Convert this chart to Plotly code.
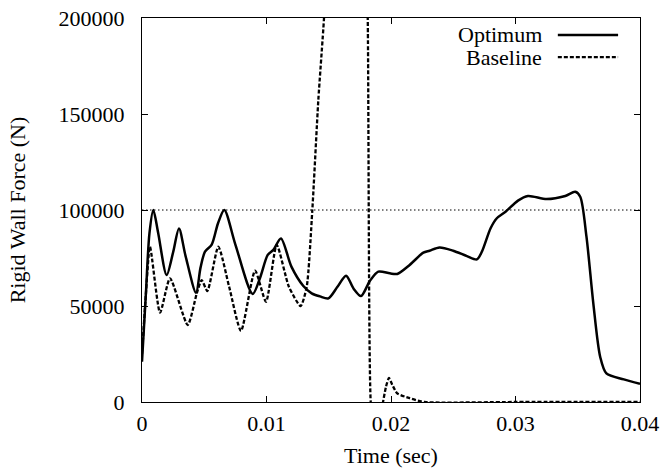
import plotly.graph_objects as go

# ---- data ----
opt_t = [0, 0.0003, 0.0006, 0.00091, 0.0013, 0.00198, 0.0025, 0.00297, 0.0035, 0.00434,
         0.0047, 0.00506, 0.0056, 0.0061, 0.00661, 0.0075, 0.00889, 0.0095, 0.0101, 0.01055,
         0.01116, 0.0120, 0.01296, 0.01363, 0.0143, 0.01497, 0.0157, 0.01639, 0.0170, 0.01759,
         0.0183, 0.01898, 0.0199, 0.0205, 0.0215, 0.0226, 0.0231, 0.0239, 0.0250, 0.0261,
         0.0269, 0.0273, 0.0280, 0.0285, 0.0292, 0.0302, 0.0310, 0.0325, 0.0340, 0.0348,
         0.0352, 0.0357, 0.03625, 0.0368, 0.0373, 0.0387, 0.0400]
opt_f = [21000, 55000, 88000, 100000, 88000, 66100, 78000, 90400, 76000, 56900,
         70000, 78300, 82000, 93000, 100000, 82000, 56250, 65000, 76600, 79200,
         85200, 70500, 60400, 56600, 55000, 54000, 60000, 65800, 59000, 55200,
         63000, 67900, 67000, 66700, 71400, 77800, 78800, 80500, 78800, 76000,
         74300, 78300, 90500, 95700, 99100, 104900, 107300, 105700, 107300, 109500,
         106900, 86100, 51400, 23600, 14900, 11800, 9500]

base_t = [0, 0.0003, 0.00064, 0.00145, 0.00225, 0.00367, 0.0044, 0.00479, 0.00525, 0.00613,
          0.0070, 0.00795, 0.00908, 0.00996, 0.01082, 0.0118, 0.01274, 0.01323, 0.01368, 0.01416,
          0.01462, 0.0150, 0.0160, 0.0172, 0.0179, 0.01813, 0.01837, 0.0187, 0.0193, 0.0196,
          0.01984, 0.0201, 0.0205, 0.0215, 0.0227, 0.0300, 0.0400]
base_f = [25000, 55000, 80900, 46500, 64400, 40100, 56600, 63500, 57800, 80900,
          60000, 37000, 68400, 52200, 81800, 60000, 50000, 60000, 100000, 157000,
          200000, 250000, 320000, 320000, 260000, 200000, 0, -20000, -2000, 8000,
          12500, 9000, 4500, 2000, 0, 0, 0]

ref_t = [0, 0.04]
ref_f = [100000, 100000]

x_ticks = [0, 0.01, 0.02, 0.03, 0.04]
x_labels = ["0", "0.01", "0.02", "0.03", "0.04"]
y_ticks = [0, 50000, 100000, 150000, 200000]
y_labels = ["0", "50000", "100000", "150000", "200000"]

FONT = "Liberation Serif, Times New Roman, serif"

fig = go.Figure()
fig.add_trace(go.Scatter(x=ref_t, y=ref_f, mode="lines", showlegend=False,
                         line=dict(color="black", width=1, dash="1.5px,2.5px")))
fig.add_trace(go.Scatter(x=opt_t, y=opt_f, mode="lines", name="Optimum", showlegend=False,
                         line=dict(color="black", width=2.5, shape="spline", smoothing=0.8)))
fig.add_trace(go.Scatter(x=base_t, y=base_f, mode="lines", name="Baseline", showlegend=False,
                         line=dict(color="black", width=2.3, dash="4px,2px", shape="spline", smoothing=0.6)))

# gnuplot-style key: text right-aligned, sample line to the right
for label, yp, dash, w in [("Optimum", 0.956, "solid", 2.5), ("Baseline", 0.898, "4px,2px", 2.3)]:
    fig.add_annotation(x=0.807, y=yp, xref="paper", yref="paper", text=label, showarrow=False,
                       xanchor="right", yanchor="middle", font=dict(family=FONT, size=22, color="black"))
    fig.add_shape(type="line", xref="paper", yref="paper", x0=0.835, x1=0.956, y0=yp, y1=yp,
                  line=dict(color="black", width=w, dash=dash))

axis_common = dict(showline=True, linecolor="black", linewidth=1, mirror="allticks",
                   ticks="inside", ticklen=6, tickcolor="black", tickwidth=1,
                   showgrid=False, zeroline=False,
                   tickfont=dict(family=FONT, size=22, color="black"))

fig.update_xaxes(range=[0, 0.04], tickvals=x_ticks, ticktext=x_labels, ticklabelstandoff=2,
                 title=dict(text="Time (sec)", font=dict(family=FONT, size=22, color="black"), standoff=12),
                 **axis_common)
fig.update_yaxes(range=[0, 200000], tickvals=y_ticks, ticktext=y_labels, ticklabelstandoff=12,
                 title=dict(text="Rigid Wall Force (N)", font=dict(family=FONT, size=22, color="black"), standoff=26),
                 **axis_common)

fig.update_layout(width=667, height=472, margin=dict(l=142, r=27, t=18, b=70, autoexpand=False),
                  plot_bgcolor="white", paper_bgcolor="white", showlegend=False)

fig.write_html("out.html")
